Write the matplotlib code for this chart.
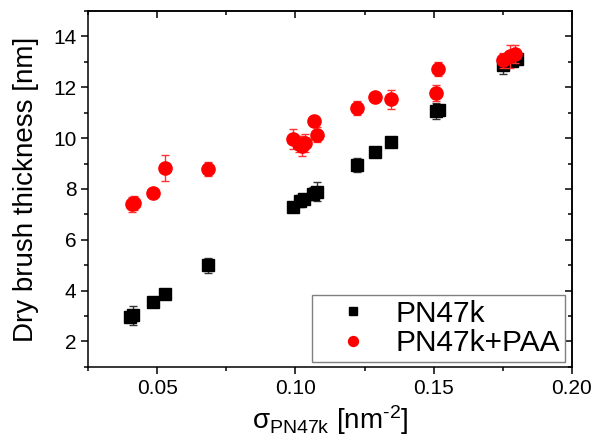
import numpy as np
import matplotlib
matplotlib.use('Agg')
import matplotlib.pyplot as plt
from matplotlib.ticker import MultipleLocator

plt.rcParams['font.family'] = ['Liberation Sans', 'DejaVu Sans']
plt.rcParams['mathtext.fontset'] = 'custom'
plt.rcParams['mathtext.rm'] = 'Liberation Sans'
plt.rcParams['mathtext.it'] = 'Liberation Sans:italic'

# Grafting density and dry thickness, bare brush
sigma_pn = [0.0400, 0.0410, 0.0485, 0.0529, 0.0684, 0.0992, 0.1017, 0.1032,
            0.1065, 0.1079, 0.1223, 0.1289, 0.1345, 0.1509, 0.1521, 0.1753,
            0.1783, 0.1801]
h_pn = [2.95, 3.02, 3.55, 3.87, 5.00, 7.29, 7.52, 7.61,
        7.81, 7.89, 8.95, 9.44, 9.84, 11.06, 11.12, 12.89,
        13.02, 13.13]
err_pn = [0.05, 0.38, 0.10, 0.10, 0.30, 0.10, 0.25, 0.15,
          0.25, 0.38, 0.28, 0.10, 0.10, 0.32, 0.10, 0.35,
          0.20, 0.15]

# Same brushes after PAA complexation
sigma_paa = [0.0407, 0.0415, 0.0485, 0.0528, 0.0683, 0.0992, 0.1014, 0.1025,
             0.1035, 0.1067, 0.1079, 0.1223, 0.1289, 0.1345, 0.1509, 0.1517,
             0.1753, 0.1777, 0.1795]
h_paa = [7.39, 7.46, 7.83, 8.82, 8.78, 9.95, 9.77, 9.68,
         9.81, 10.69, 10.14, 11.19, 11.61, 11.53, 11.78, 12.73,
         13.06, 13.22, 13.31]
err_paa = [0.28, 0.28, 0.10, 0.50, 0.28, 0.39, 0.30, 0.39,
           0.37, 0.10, 0.28, 0.28, 0.10, 0.38, 0.30, 0.28,
           0.29, 0.45, 0.37]

fig = plt.figure(figsize=(5.93, 4.43), dpi=100)
ax = fig.add_axes([0.149, 0.172, 0.815, 0.803])

eb1 = ax.errorbar(sigma_pn, h_pn, yerr=err_pn, fmt='s', color='black', ms=8,
                  ecolor='#333333', elinewidth=1, capsize=3, capthick=1,
                  zorder=3)
eb2 = ax.errorbar(sigma_paa, h_paa, yerr=err_paa, fmt='o', color='#ff0000',
                  ms=9.5, ecolor='#ff3333', elinewidth=1, capsize=3,
                  capthick=1, zorder=4)

ax.set_xlim(0.025, 0.20)
ax.set_ylim(1, 15)
ax.xaxis.set_major_locator(MultipleLocator(0.05))
ax.xaxis.set_minor_locator(MultipleLocator(0.025))
ax.yaxis.set_major_locator(MultipleLocator(2))
ax.yaxis.set_minor_locator(MultipleLocator(1))
ax.xaxis.set_major_formatter(lambda v, p: f'{v:.2f}')

for s in ax.spines.values():
    s.set_linewidth(1.1)
ax.tick_params(which='both', direction='out', width=1.1, labelsize=15,
               top=False, right=False)
ax.tick_params(which='major', length=5)
ax.tick_params(which='minor', length=3)

# inward ticks on top and right
secx = ax.secondary_xaxis('top')
secx.xaxis.set_major_locator(MultipleLocator(0.05))
secx.xaxis.set_minor_locator(MultipleLocator(0.025))
secy = ax.secondary_yaxis('right')
secy.yaxis.set_major_locator(MultipleLocator(2))
secy.yaxis.set_minor_locator(MultipleLocator(1))
for sec in (secx, secy):
    sec.tick_params(which='both', direction='in', width=1.1,
                    labeltop=False, labelright=False)
    sec.tick_params(which='major', length=5)
    sec.tick_params(which='minor', length=3)
    for s in sec.spines.values():
        s.set_linewidth(1.1)

ax.set_xlabel('$\\mathrm{σ}_{\\mathrm{PN47k}}$ [nm$^{\\mathrm{‐2}}$]', fontsize=20,
              labelpad=4)
ax.set_ylabel('Dry brush thickness [nm]', fontsize=20, labelpad=10)

leg = ax.legend([eb1[0], eb2[0]], ['PN47k', 'PN47k+PAA'],
                loc='lower right', bbox_to_anchor=(0.986, 0.014),
                borderaxespad=0, fontsize=21.5, markerscale=0.75,
                fancybox=False, edgecolor='#808080', framealpha=1,
                handletextpad=0.25, borderpad=0.15, labelspacing=0.05,
                handlelength=2.4)
leg.get_frame().set_linewidth(1.0)

fig.savefig('out.png', dpi=100)
